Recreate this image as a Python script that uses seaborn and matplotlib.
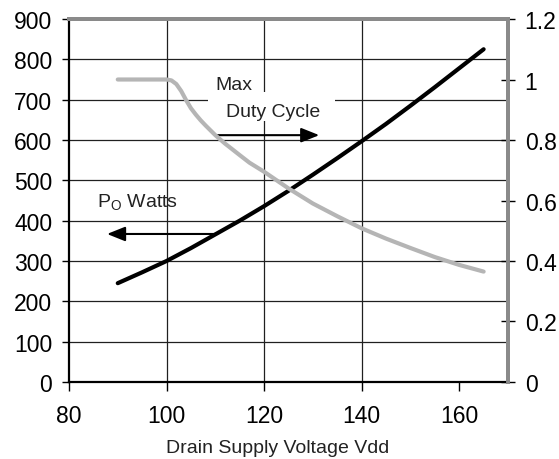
#!/usr/bin/env python3
"""
plot.py

Output power and max duty cycle vs drain supply voltage (two y axes).
Saves the chart as out.png.
"""

import pandas as pd
import matplotlib.pyplot as plt
import seaborn as sns
from matplotlib.patches import Rectangle
from matplotlib.ticker import FuncFormatter

# === DATA ===

VDD_POWER = [90, 95, 100, 105, 110, 115, 120, 125, 130, 135,
             140, 145, 150, 155, 160, 165]
POWER_WATTS = [245, 272, 300, 332, 366, 400, 436, 474, 514, 555,
               597, 640, 685, 731, 778, 825]

VDD_DUTY = [90, 95, 100, 101, 102, 103, 104, 105, 106, 107, 108, 109, 110,
            112, 115, 117, 120, 125, 130, 135, 140, 145, 150, 155, 160, 165]
MAX_DUTY = [1.0, 1.0, 1.0, 0.997, 0.985, 0.962, 0.932, 0.905, 0.884, 0.865,
            0.848, 0.832, 0.816, 0.788, 0.75, 0.725, 0.695, 0.64, 0.59, 0.548,
            0.508, 0.474, 0.443, 0.413, 0.387, 0.365]

X_TICKS = [80, 100, 120, 140, 160]
LEFT_TICKS = [0, 100, 200, 300, 400, 500, 600, 700, 800, 900]
RIGHT_TICKS = [0, 0.2, 0.4, 0.6, 0.8, 1.0, 1.2]

# === STYLE ===

sns.set_theme(style="white")
plt.rcParams["font.family"] = ["Liberation Sans", "DejaVu Sans"]
plt.rcParams["mathtext.fontset"] = "custom"
plt.rcParams["mathtext.rm"] = "Liberation Sans"

BORDER_GRAY = "#8a8a8a"
DUTY_GRAY = "#b5b5b5"
TEXT_COLOR = "#222222"


def main():
    df_power = pd.DataFrame({"Vdd": VDD_POWER, "Po": POWER_WATTS})
    df_duty = pd.DataFrame({"Vdd": VDD_DUTY, "Duty": MAX_DUTY})

    fig = plt.figure(figsize=(5.59, 4.60), dpi=100)
    ax = fig.add_axes([0.1234, 0.1674, 0.7854, 0.7891])
    ax2 = ax.twinx()

    # left axis: output power
    sns.lineplot(data=df_power, x="Vdd", y="Po", ax=ax, color="black",
                 linewidth=3, solid_capstyle="round", zorder=3)
    # right axis: max duty cycle
    sns.lineplot(data=df_duty, x="Vdd", y="Duty", ax=ax2, color=DUTY_GRAY,
                 linewidth=3, solid_capstyle="round", zorder=3)

    ax.set_xlim(80, 170)
    ax.set_ylim(0, 900)
    ax2.set_ylim(0, 1.2)
    ax.set_xticks(X_TICKS)
    ax.set_yticks(LEFT_TICKS)
    ax2.set_yticks(RIGHT_TICKS)
    ax2.yaxis.set_major_formatter(FuncFormatter(lambda v, p: f"{v:g}"))

    # grid (Excel-like: no line on the 80/160 columns)
    ax.set_axisbelow(True)
    ax.grid(True, color="#202020", linewidth=0.9)
    xgl = ax.get_xgridlines()
    xgl[0].set_visible(False)
    xgl[-1].set_visible(False)
    ax2.grid(False)

    # spines
    for side in ["left", "bottom"]:
        ax.spines[side].set_color("black")
        ax.spines[side].set_linewidth(1.6)
    for a in (ax, ax2):
        a.spines["top"].set_color(BORDER_GRAY)
        a.spines["top"].set_linewidth(2.8)
        a.spines["right"].set_color(BORDER_GRAY)
        a.spines["right"].set_linewidth(2.8)
    ax2.spines["left"].set_visible(False)
    ax2.spines["bottom"].set_visible(False)

    ax.tick_params(axis="y", left=True, right=False, direction="out", length=5,
                   width=1, color="black", pad=7, labelsize=16.5, labelcolor="black")
    ax.tick_params(axis="x", bottom=True, direction="out", length=6.5,
                   width=1, color="black", pad=9, labelsize=16.5, labelcolor="black")
    ax2.tick_params(axis="y", right=True, direction="inout", length=10,
                    width=1, color="black", pad=7, labelsize=16.5, labelcolor="black")

    ax.set_xlabel("Drain Supply Voltage Vdd", fontsize=14, color=TEXT_COLOR)
    ax.xaxis.set_label_coords(0.476, -0.158)
    ax.set_ylabel("")
    ax2.set_ylabel("")

    # white box behind the duty cycle label
    ax.add_patch(Rectangle((108.5, 648), 26.1, 72, facecolor="white",
                           edgecolor="none", zorder=1))

    ax.text(110, 727, "Max", fontsize=14, ha="left", va="baseline",
            color=TEXT_COLOR, zorder=4)
    ax.text(112.2, 660, "Duty Cycle", fontsize=14, ha="left", va="baseline",
            color=TEXT_COLOR, zorder=4)
    ax.text(85.7, 434, r"P$_\mathregular{O}$ Watts", fontsize=14, ha="left",
            va="baseline", color=TEXT_COLOR, zorder=4)

    arrow = dict(arrowstyle="-|>,head_length=0.55,head_width=0.22",
                 color="black", lw=1.5, mutation_scale=20, shrinkA=0, shrinkB=0)
    ax.annotate("", xy=(131.3, 612), xytext=(110, 612), arrowprops=arrow, zorder=4)
    ax.annotate("", xy=(87.8, 367), xytext=(110, 367), arrowprops=arrow, zorder=4)

    fig.savefig("out.png", dpi=100)
    plt.close(fig)


if __name__ == "__main__":
    main()
